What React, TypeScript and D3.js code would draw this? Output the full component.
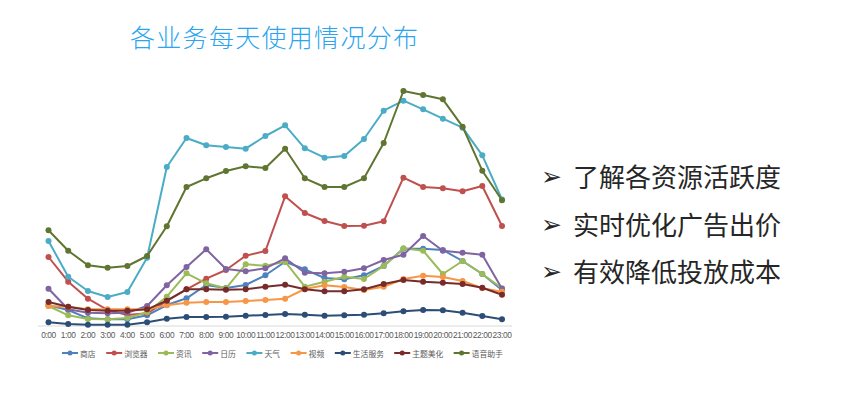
import * as d3 from "d3";

const hours = d3.range(24).map((h) => `${h}:00`);

const seriesNames = ["商店", "浏览器", "资讯", "日历", "天气", "视频", "生活服务", "主题美化", "语音助手"];
const seriesColors = ["#4F81BD", "#C0504D", "#9BBB59", "#8064A2", "#4BACC6", "#F79646", "#2C4D75", "#772C2A", "#5F7530"];

const shop = [20.7, 16, 7.7, 6.7, 6.7, 10.7, 21, 27.7, 41, 38, 41, 50.7, 64.3, 56.7, 48, 46.7, 50.7, 60, 77.3, 77.3, 76, 65, 52, 36];
const browser = [69, 44.3, 27.3, 16, 11, 12.7, 25, 36.7, 47.3, 56, 70.3, 75, 129.7, 113, 105, 100, 100.3, 104.7, 148.3, 139, 137.7, 134.7, 140, 100];
const news = [20, 10.7, 7, 6.7, 8, 13.7, 29.3, 52.7, 42.7, 37.7, 61.7, 60.3, 64.3, 39.3, 44.3, 49.3, 47, 60, 77.7, 75.3, 52, 65, 52, 37.7];
const calendar = [37.3, 16.7, 13.3, 12.7, 13.3, 20, 40.7, 59, 76.7, 57, 54.7, 57.7, 67.7, 53.3, 52.7, 54.3, 57.7, 66, 71.3, 90, 75.3, 73.3, 71.3, 37.3];
const weather = [85, 49.3, 35, 29, 34, 68.3, 159, 188, 180.7, 179, 177.3, 190, 200.7, 177.7, 168.3, 170, 187, 215.3, 225.3, 216.7, 207.3, 198.3, 170.7, 126.5];
const video = [20, 19.3, 16.7, 16.7, 16.7, 16.7, 20.7, 23.3, 24, 24, 25, 26, 27.3, 37, 40.7, 39, 36, 39.3, 47, 50.3, 49, 45, 37.7, 34.3];
const lifeService = [3.7, 2, 1.3, 1.3, 1.3, 3.7, 7.3, 9, 9, 9.3, 10.3, 11, 12, 11.3, 10.3, 10.7, 11.3, 12.7, 14.7, 16, 15.7, 13.3, 10, 6.7];
const theme = [24, 19.3, 16, 15.3, 15.3, 16.7, 25.3, 36.7, 36.7, 36.3, 36.7, 39.3, 41.3, 36.7, 34.7, 34.7, 36.7, 42, 46, 44.3, 43.3, 42, 38.3, 31.3];
const voice = [95.7, 75.3, 60.7, 58.3, 60, 70, 99.7, 139, 147.7, 155, 159.7, 158, 177.3, 147.7, 139, 139, 147.7, 183, 235, 231, 226.7, 199.3, 155.3, 125.7];

const seriesValues = [shop, browser, news, calendar, weather, video, lifeService, theme, voice];

const bullets = ["了解各资源活跃度", "实时优化广告出价", "有效降低投放成本"];

export default function App() {
  const width = 851;
  const height = 399;

  // plot area
  const x = d3.scalePoint<string>().domain(hours).range([48.5, 502]);
  const y = d3.scaleLinear().domain([0, 240]).range([326, 86]);

  const line = d3
    .line<number>()
    .x((_, i) => x(hours[i]) as number)
    .y((d) => y(d));

  // legend positions
  let lx = 62;
  const legendItems = seriesNames.map((name, i) => {
    const item = { name, color: seriesColors[i], x: lx };
    lx += 16 + 3 + name.length * 7.6 + 10;
    return item;
  });

  return (
    <svg
      width={width}
      height={height}
      style={{ position: "absolute", left: 0, top: 0, background: "#fff" }}
    >
      {/* Title */}
      <text
        x={130}
        y={36}
        dominantBaseline="central"
        fontFamily="Noto Sans CJK SC"
        fontWeight={300}
        fontSize={25}
        letterSpacing={1.3}
        fill="#2BA5F0"
      >
        各业务每天使用情况分布
      </text>

      {/* X axis */}
      <line x1={38} x2={512} y1={y(0)} y2={y(0)} stroke="#D9D9D9" strokeWidth={1} />
      {hours.map((h) => (
        <text
          key={h}
          x={x(h)}
          y={335}
          textAnchor="middle"
          dominantBaseline="central"
          fontFamily="Liberation Sans"
          fontSize={8.4}
          letterSpacing={-0.4}
          fill="#595959"
        >
          {h}
        </text>
      ))}

      {/* Lines */}
      {seriesValues.map((vals, i) => (
        <g key={seriesNames[i]}>
          <path d={line(vals) ?? ""} fill="none" stroke={seriesColors[i]} strokeWidth={2} strokeLinejoin="round" />
          {vals.map((v, j) => (
            <circle key={j} cx={x(hours[j])} cy={y(v)} r={3} fill={seriesColors[i]} />
          ))}
        </g>
      ))}

      {/* Legend */}
      {legendItems.map((d) => (
        <g key={d.name} transform={`translate(${d.x},353)`}>
          <line x1={0} x2={16} y1={0} y2={0} stroke={d.color} strokeWidth={2} />
          <circle cx={8} cy={0} r={2.5} fill={d.color} />
          <text
            x={18}
            y={0}
            dominantBaseline="central"
            fontFamily="Noto Sans CJK SC"
            fontSize={7.8}
            fill="#595959"
          >
            {d.name}
          </text>
        </g>
      ))}

      {/* Bullets */}
      {bullets.map((b, i) => (
        <g key={b} transform={`translate(0,${[175, 223, 270][i]})`}>
          <text x={541} y={1} dominantBaseline="central" fontFamily="DejaVu Sans" fontSize={25} fill="#262626">
            ➢
          </text>
          <text x={573} y={0} dominantBaseline="central" fontFamily="Noto Sans CJK SC" fontSize={26} fill="#262626">
            {b}
          </text>
        </g>
      ))}
    </svg>
  );
}
